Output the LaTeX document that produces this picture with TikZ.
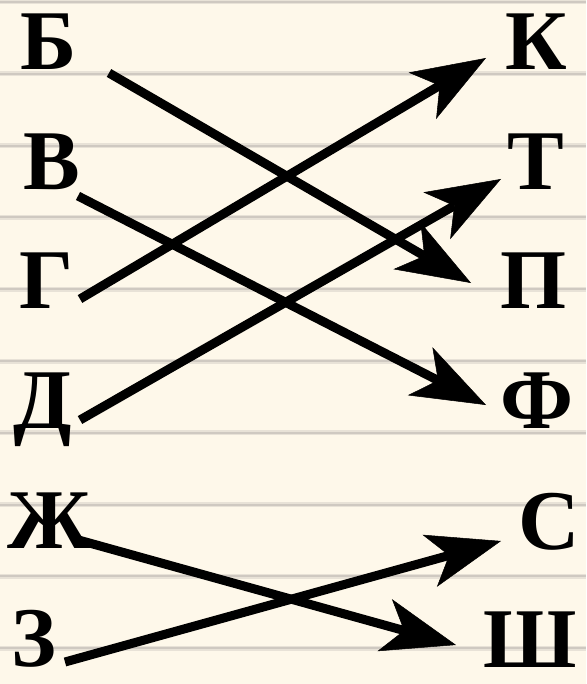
\documentclass[tikz,border=0pt]{standalone}
\usepackage{fontspec}
\setmainfont{Liberation Serif}
\usetikzlibrary{arrows.meta}

\definecolor{paper}{RGB}{254,248,234}
\definecolor{ruleband}{RGB}{232,226,215}
\definecolor{rulecore}{RGB}{207,201,193}

\begin{document}
\begin{tikzpicture}[x=1pt, y=-1pt,
    letter/.style={anchor=base, inner sep=0pt, font=\fontsize{85}{85}\selectfont\bfseries},
    link/.style={line width=9pt, -{Stealth[length=74pt, width=54pt, inset=20pt, line width=0.5pt]}}]
    % paper with ruled lines
    \fill[paper] (0,0) rectangle (586,684);
    \useasboundingbox (0,0) rectangle (586,684);
    \foreach \k in {0,...,9} {
        \draw[ruleband, line width=5pt] (0,{2+71.8*\k}) -- (586,{2+71.8*\k});
        \draw[rulecore, line width=2pt] (0,{2+71.8*\k}) -- (586,{2+71.8*\k});
    }

    % left letters
    \node[letter] (b)  at (49,70)  {Б};
    \node[letter] (v)  at (52,190) {В};
    \node[letter] (g)  at (47,308) {Г};
    \node[letter] (d)  at (43,428) {Д};
    \node[letter] (zh) at (50,548) {Ж};
    \node[letter] (z)  at (34,666) {З};

    % right letters
    \node[letter] (k)  at (536,70)  {К};
    \node[letter] (t)  at (536,190) {Т};
    \node[letter] (p)  at (534,308) {П};
    \node[letter] (f)  at (537,428) {Ф};
    \node[letter] (s)  at (549,549) {С};
    \node[letter] (sh) at (530,667) {Ш};

    % arrow ends
    \coordinate (b-out)  at (109,73);
    \coordinate (v-out)  at (78,196);
    \coordinate (g-out)  at (80,299);
    \coordinate (d-out)  at (80,420);
    \coordinate (zh-out) at (75,539);
    \coordinate (z-out)  at (65,662);
    \coordinate (k-in)  at (486,58);
    \coordinate (t-in)  at (501,179);
    \coordinate (p-in)  at (471,283);
    \coordinate (f-in)  at (486,405);
    \coordinate (s-in)  at (501,541);
    \coordinate (sh-in) at (456,645);

    % arrows
    \draw[link] (b-out)  -- (p-in);
    \draw[link] (v-out)  -- (f-in);
    \draw[link] (g-out)  -- (k-in);
    \draw[link] (d-out)  -- (t-in);
    \draw[link] (zh-out) -- (sh-in);
    \draw[link] (z-out)  -- (s-in);
\end{tikzpicture}
\end{document}
